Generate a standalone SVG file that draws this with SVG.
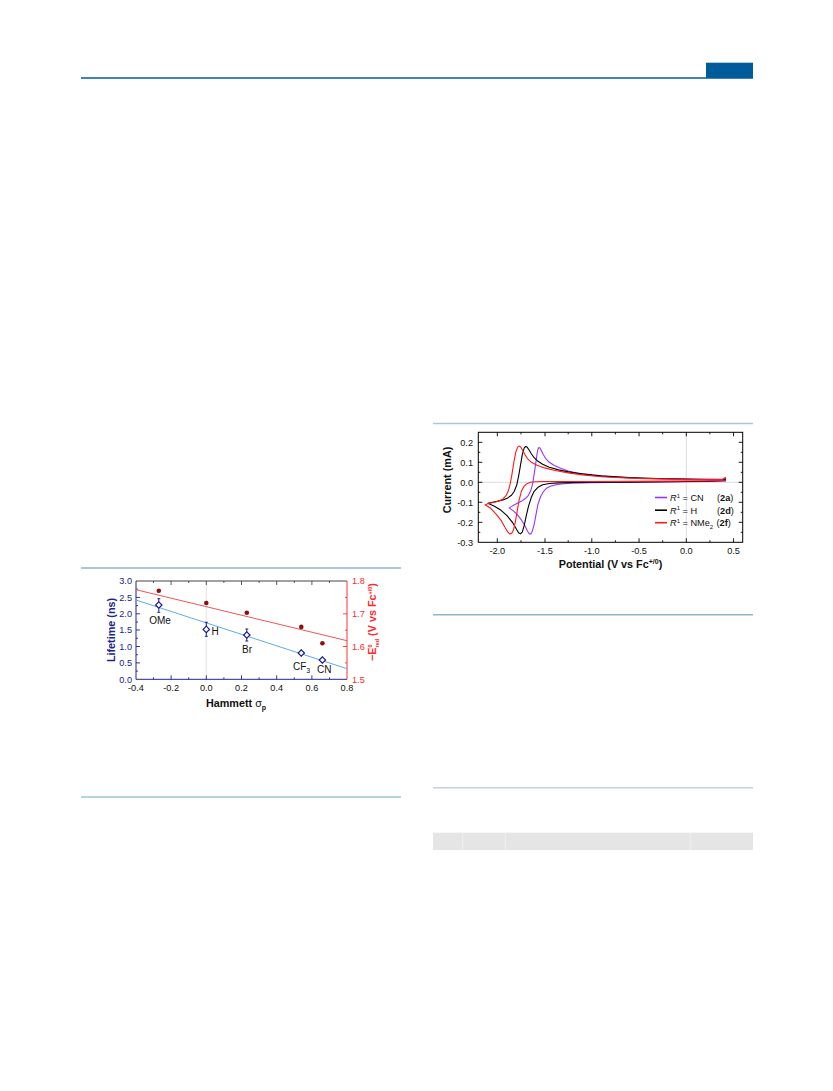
<svg xmlns="http://www.w3.org/2000/svg" width="833" height="1091" viewBox="0 0 833 1091">
<style>
text{font-family:"Liberation Sans",Arial,sans-serif}
.tk{font-size:9.2px}
.ttl{font-size:10.8px;font-weight:bold}
.lbl{font-size:10px;fill:#111}
.sep{fill:none}
.tick{fill:none;stroke-width:0.9}
.cv{fill:none;stroke-width:1.1;stroke-linejoin:round;vector-effect:non-scaling-stroke}
.leg{font-size:9.2px;fill:#111}
</style>
<rect width="833" height="1091" fill="#fff"/>
<g id="header">
<rect x="706" y="62.7" width="47" height="15.3" fill="#005b9a"/>
<line x1="81" y1="78" x2="753" y2="78" stroke="#005b9a" stroke-width="1.5"/>
</g>
<g id="separators" class="sep">
<line x1="81" y1="568" x2="401" y2="568" stroke="#8db5d6" stroke-width="1.4"/>
<line x1="81" y1="797" x2="401" y2="797" stroke="#6ea7c8" stroke-width="1.2"/>
<line x1="433" y1="423.5" x2="753" y2="423.5" stroke="#a6c6e2" stroke-width="1.4"/>
<line x1="433" y1="614.7" x2="753" y2="614.7" stroke="#8fb3d0" stroke-width="1.4"/>
<line x1="433" y1="787.7" x2="753" y2="787.7" stroke="#bed4e6" stroke-width="1.5"/>
</g>
<g id="table-band">
<rect x="433" y="832.7" width="320" height="17.3" fill="#e5e5e5"/>
<g stroke="#f2f2f2" stroke-width="0.8">
<line x1="462.7" y1="832.7" x2="462.7" y2="850"/>
<line x1="505.3" y1="832.7" x2="505.3" y2="850"/>
<line x1="690.3" y1="832.7" x2="690.3" y2="850"/>
</g>
</g>

<g id="plot-hammett">
<line x1="206.3" y1="581" x2="206.3" y2="679.3" stroke="#dcdcdc" stroke-width="0.8"/>
<line x1="136" y1="581" x2="347" y2="581" stroke="#444" stroke-width="1"/>
<line x1="136" y1="679.3" x2="347" y2="679.3" stroke="#22228c" stroke-width="1"/>
<line x1="136" y1="581" x2="136" y2="679.3" stroke="#22228c" stroke-width="1"/>
<line x1="347" y1="581" x2="347" y2="679.3" stroke="#ff3333" stroke-width="1"/>
<path class="tick" stroke="#22228c" d="M136 662.9h4M136 646.5h4M136 630h4M136 613.8h4M136 597.4h4M136 671.1h2M136 654.7h2M136 638.3h2M136 622h2M136 605.6h2M136 589.2h2"/>
<path class="tick" stroke="#22228c" d="M171.1 679.3v-4M206.3 679.3v-4M241.5 679.3v-4M276.7 679.3v-4M311.9 679.3v-4M153.5 679.3v-2M188.7 679.3v-2M223.9 679.3v-2M259.1 679.3v-2M294.3 679.3v-2M329.5 679.3v-2"/>
<path class="tick" stroke="#444" d="M171.1 581v4M206.3 581v4M241.5 581v4M276.7 581v4M311.9 581v4M153.5 581v2M188.7 581v2M223.9 581v2M259.1 581v2M294.3 581v2M329.5 581v2"/>
<path class="tick" stroke="#ff3333" d="M347 646.5h-4M347 613.8h-4M347 662.9h-2M347 630.2h-2M347 597.4h-2"/>
<g class="tk" fill="#22228c" text-anchor="end">
<text x="132" y="584.4">3.0</text>
<text x="132" y="600.8">2.5</text>
<text x="132" y="617.2">2.0</text>
<text x="132" y="633.4">1.5</text>
<text x="132" y="649.9">1.0</text>
<text x="132" y="666.3">0.5</text>
<text x="132" y="682.7">0.0</text>
</g>
<g class="tk" fill="#111" text-anchor="middle">
<text x="135.9" y="691">-0.4</text>
<text x="171.1" y="691">-0.2</text>
<text x="206.3" y="691">0.0</text>
<text x="241.5" y="691">0.2</text>
<text x="276.7" y="691">0.4</text>
<text x="311.9" y="691">0.6</text>
<text x="347" y="691">0.8</text>
</g>
<g class="tk" fill="#ff2a2a">
<text x="352" y="584.4">1.8</text>
<text x="352" y="617.2">1.7</text>
<text x="352" y="649.9">1.6</text>
<text x="352" y="682.7">1.5</text>
</g>
<text class="ttl" fill="#22228c" text-anchor="middle" transform="rotate(-90 115 630)" x="115" y="630">Lifetime (ns)</text>
<text class="ttl" fill="#ff2a2a" text-anchor="middle" font-size="8.8" transform="rotate(-90 376 622)" x="376" y="622">−E<tspan dy="-3.6" font-size="5.5">0</tspan><tspan dx="-3.1" dy="6.3" font-size="5.5">red</tspan><tspan dy="-2.7"> (V vs Fc</tspan><tspan dy="-3.6" font-size="5.5">+/0</tspan><tspan dy="3.6">)</tspan></text>
<text class="ttl" fill="#111" text-anchor="middle" font-size="10.2" x="236" y="707">Hammett <tspan font-weight="normal">σ</tspan><tspan dy="3" font-size="7">p</tspan></text>
<line x1="136" y1="589.7" x2="347" y2="640.7" stroke="#f05555" stroke-width="1"/>
<line x1="136" y1="600" x2="347" y2="668.7" stroke="#5aaaf0" stroke-width="1"/>
<g fill="#8b1010">
<circle cx="158.8" cy="590.8" r="2.3"/>
<circle cx="206.3" cy="603" r="2.3"/>
<circle cx="246.8" cy="612.8" r="2.3"/>
<circle cx="301.3" cy="626.9" r="2.3"/>
<circle cx="322.4" cy="643.3" r="2.3"/>
</g>
<g stroke="#22228c" stroke-width="1" fill="none">
<path d="M158.8 598.7v13.6M157.3 598.7h3M157.3 612.3h3"/>
<path d="M206.3 622.3v14M204.8 622.3h3M204.8 636.3h3"/>
<path d="M246.8 629v12M245.3 629h3M245.3 641h3"/>
<path d="M301.3 649.5v7M322.4 656.5v7"/>
</g>
<g stroke="#1a1a99" stroke-width="1.2" fill="#fff">
<polygon points="158.8,601.8 162,605 158.8,608.2 155.6,605"/>
<polygon points="206.3,626.2 209.5,629.4 206.3,632.6 203.1,629.4"/>
<polygon points="246.8,631.8 250,635 246.8,638.2 243.6,635"/>
<polygon points="301.3,649.8 304.5,653 301.3,656.2 298.1,653"/>
<polygon points="322.4,656.8 325.6,660 322.4,663.2 319.2,660"/>
</g>
<text class="lbl" x="160" y="624" text-anchor="middle">OMe</text>
<text class="lbl" x="211.5" y="635">H</text>
<text class="lbl" x="247" y="653" text-anchor="middle">Br</text>
<text class="lbl" x="293" y="670">CF<tspan dy="2.5" font-size="7">3</tspan></text>
<text class="lbl" x="317" y="673">CN</text>
</g>

<g id="plot-cv">
<line x1="686.3" y1="432.3" x2="686.3" y2="542.3" stroke="#d2d2d2" stroke-width="0.8"/>
<line x1="478.3" y1="482.3" x2="742.7" y2="482.3" stroke="#d2d2d2" stroke-width="0.8"/>
<g id="connectors">
<g transform="translate(686.3 482.3) scale(94.5 -200)">
<polyline class="cv" stroke="#9933ff" points="0.42,0.008 0.2,0.004 -0.2,0.002 -0.6,0.0 -1.0,-0.002 -1.2,-0.004 -1.3,-0.007 -1.38,-0.012 -1.44,-0.02 -1.48,-0.03 -1.51,-0.045 -1.54,-0.07 -1.57,-0.11 -1.59,-0.16 -1.61,-0.21 -1.63,-0.245 -1.645,-0.258 -1.66,-0.258 -1.68,-0.245 -1.71,-0.215 -1.75,-0.185 -1.79,-0.16 -1.83,-0.143 -1.875,-0.128 -1.84,-0.118 -1.79,-0.105 -1.74,-0.093 -1.70,-0.08 -1.67,-0.065 -1.645,-0.04 -1.625,-0.005 -1.61,0.04 -1.595,0.09 -1.58,0.14 -1.57,0.165 -1.56,0.174 -1.55,0.172 -1.535,0.16 -1.515,0.14 -1.49,0.12 -1.45,0.1 -1.4,0.085 -1.33,0.07 -1.25,0.056 -1.15,0.045 -1.0,0.035 -0.8,0.027 -0.5,0.02 -0.2,0.017 0.2,0.015 0.4,0.015 0.42,0.02"/>
<polyline class="cv" stroke="#000" points="0.42,0.008 0.2,0.005 -0.2,0.003 -0.6,0.001 -1.0,0.0 -1.2,-0.001 -1.35,-0.003 -1.45,-0.006 -1.52,-0.012 -1.57,-0.025 -1.61,-0.045 -1.64,-0.075 -1.67,-0.12 -1.695,-0.17 -1.715,-0.215 -1.735,-0.248 -1.755,-0.258 -1.775,-0.252 -1.8,-0.232 -1.84,-0.2 -1.9,-0.165 -1.96,-0.14 -2.03,-0.12 -2.1,-0.105 -2.05,-0.1 -2.0,-0.095 -1.94,-0.088 -1.89,-0.078 -1.85,-0.065 -1.82,-0.045 -1.795,-0.015 -1.775,0.03 -1.755,0.085 -1.735,0.14 -1.715,0.172 -1.7,0.179 -1.685,0.176 -1.665,0.163 -1.64,0.143 -1.61,0.123 -1.57,0.105 -1.52,0.09 -1.45,0.075 -1.35,0.062 -1.25,0.052 -1.1,0.042 -0.9,0.032 -0.6,0.024 -0.3,0.019 0.1,0.015 0.4,0.014 0.42,0.016"/>
<polyline class="cv" stroke="#ff1a1a" points="0.42,0.01 0.2,0.008 -0.2,0.006 -0.6,0.005 -1.0,0.004 -1.3,0.004 -1.5,0.004 -1.6,0.003 -1.65,0.0 -1.69,-0.008 -1.72,-0.022 -1.745,-0.045 -1.77,-0.09 -1.79,-0.145 -1.81,-0.2 -1.83,-0.24 -1.85,-0.257 -1.87,-0.258 -1.89,-0.248 -1.92,-0.225 -1.96,-0.19 -2.01,-0.16 -2.07,-0.13 -2.13,-0.112 -2.08,-0.105 -2.03,-0.1 -1.98,-0.093 -1.94,-0.083 -1.91,-0.068 -1.885,-0.045 -1.865,-0.01 -1.845,0.04 -1.825,0.1 -1.805,0.15 -1.785,0.176 -1.77,0.181 -1.755,0.178 -1.735,0.163 -1.71,0.14 -1.68,0.118 -1.64,0.1 -1.58,0.085 -1.5,0.072 -1.4,0.06 -1.25,0.047 -1.1,0.037 -0.9,0.028 -0.6,0.021 -0.3,0.017 0.1,0.014 0.38,0.014 0.42,0.025"/>
</g>
</g>
<rect x="478.3" y="432.3" width="264.4" height="110" fill="none" stroke="#000" stroke-width="1"/>
<path class="tick" stroke="#000" d="M478.3 522.3h4M478.3 502.3h4M478.3 482.3h4M478.3 462.3h4M478.3 442.3h4M478.3 532.3h2M478.3 512.3h2M478.3 492.3h2M478.3 472.3h2M478.3 452.3h2M742.7 522.3h-4M742.7 502.3h-4M742.7 482.3h-4M742.7 462.3h-4M742.7 442.3h-4M742.7 532.3h-2M742.7 512.3h-2M742.7 492.3h-2M742.7 472.3h-2M742.7 452.3h-2M497.3 542.3v-4M545 542.3v-4M591.8 542.3v-4M639.05 542.3v-4M686.3 542.3v-4M733.55 542.3v-4M521 542.3v-2M568.2 542.3v-2M615.4 542.3v-2M662.7 542.3v-2M709.9 542.3v-2M497.3 432.3v4M545 432.3v4M591.8 432.3v4M639.05 432.3v4M686.3 432.3v4M733.55 432.3v4M521 432.3v2M568.2 432.3v2M615.4 432.3v2M662.7 432.3v2M709.9 432.3v2"/>
<g class="tk" fill="#111" text-anchor="end">
<text x="473" y="445.6">0.2</text>
<text x="473" y="465.6">0.1</text>
<text x="473" y="485.6">0.0</text>
<text x="473" y="505.6">-0.1</text>
<text x="473" y="525.6">-0.2</text>
<text x="473" y="545.6">-0.3</text>
</g>
<g class="tk" fill="#111" text-anchor="middle">
<text x="497.3" y="553.5">-2.0</text>
<text x="545" y="553.5">-1.5</text>
<text x="591.8" y="553.5">-1.0</text>
<text x="639.05" y="553.5">-0.5</text>
<text x="686.3" y="553.5">0.0</text>
<text x="733.55" y="553.5">0.5</text>
</g>
<text class="ttl" fill="#111" font-size="11" text-anchor="middle" transform="rotate(-90 451 480)" x="451" y="480">Current (mA)</text>
<text class="ttl" fill="#111" font-size="11" text-anchor="middle" x="610.5" y="568">Potential (V vs Fc<tspan dy="-4.5" font-size="7">+/0</tspan><tspan dy="4.5">)</tspan></text>
<g id="legend">
<line x1="655" y1="497.5" x2="667" y2="497.5" stroke="#9933ff" stroke-width="1.6"/>
<line x1="655" y1="510.2" x2="667" y2="510.2" stroke="#000" stroke-width="1.6"/>
<line x1="655" y1="522.7" x2="667" y2="522.7" stroke="#ff1a1a" stroke-width="1.6"/>
<text class="leg" x="670" y="501"><tspan font-style="italic">R</tspan><tspan dy="-3.5" font-size="6">1</tspan><tspan dy="3.5"> = CN</tspan></text>
<text class="leg" x="670" y="513.7"><tspan font-style="italic">R</tspan><tspan dy="-3.5" font-size="6">1</tspan><tspan dy="3.5"> = H</tspan></text>
<text class="leg" x="670" y="526.2"><tspan font-style="italic">R</tspan><tspan dy="-3.5" font-size="6">1</tspan><tspan dy="3.5"> = NMe</tspan><tspan dy="2.5" font-size="6">2</tspan></text>
<text class="leg" x="717" y="501">(<tspan font-weight="bold">2a</tspan>)</text>
<text class="leg" x="717" y="513.7">(<tspan font-weight="bold">2d</tspan>)</text>
<text class="leg" x="716.5" y="526.2">(<tspan font-weight="bold">2f</tspan>)</text>
</g>
</g>
</svg>
